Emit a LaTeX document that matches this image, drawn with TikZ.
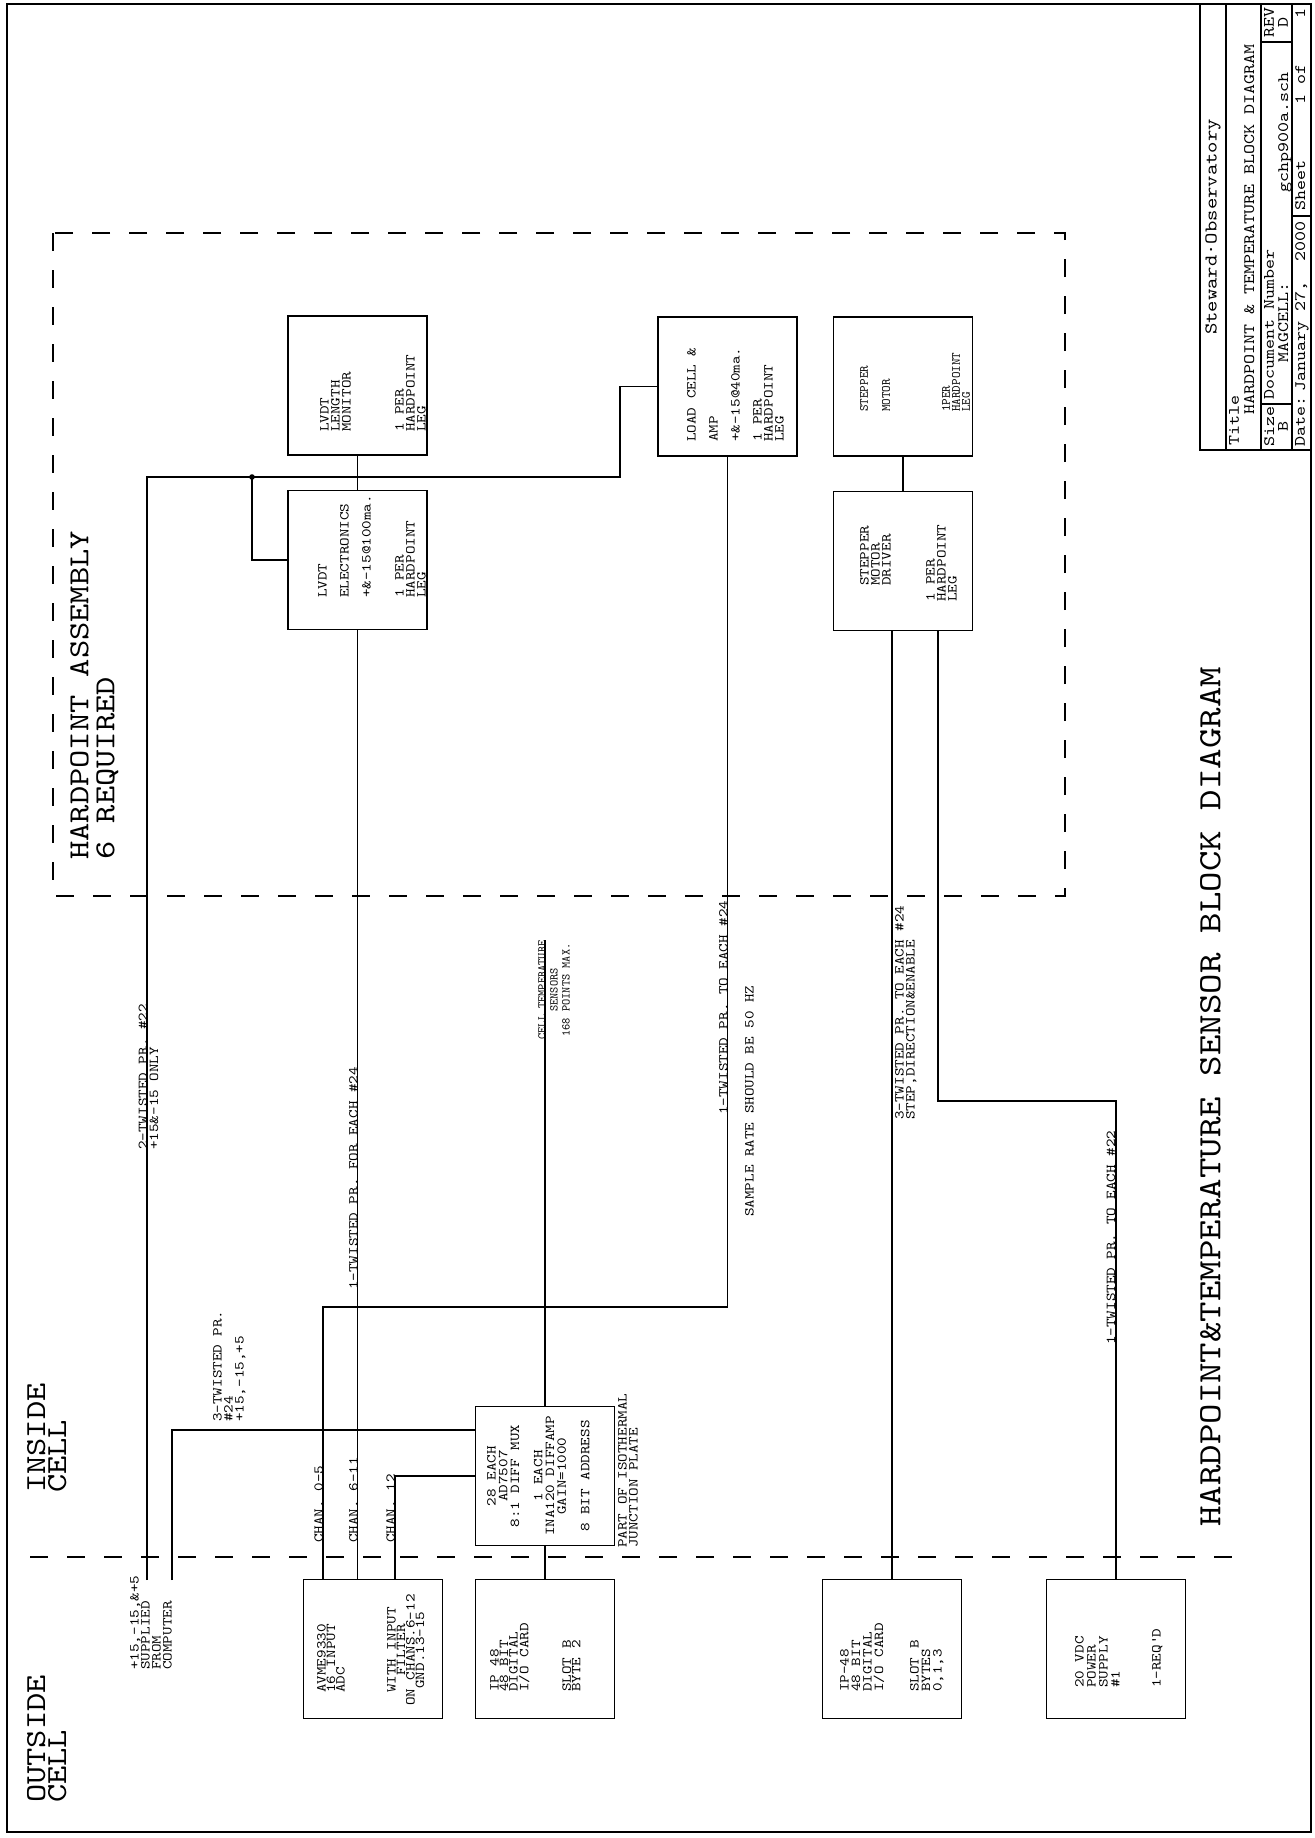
\documentclass[tikz,border=0pt]{standalone}
\usepackage{fontspec}
\newfontfamily\plotfont[FakeStretch=1.2]{lmmono10-regular.otf}
\newfontfamily\plotmid{lmmono10-regular.otf}
\usetikzlibrary{calc,positioning}
\newcommand\pfont[2]{\plotfont\fontsize{#1}{#2}\selectfont}
\newcommand\mfont[2]{\plotmid\fontsize{#1}{#2}\selectfont}
\tikzset{
  blk/.style={draw, line width=1.5pt, minimum size=139pt, inner sep=0pt},
  wire/.style={line width=1.5pt},
  bound/.style={line width=1.5pt, dash pattern=on 18pt off 19pt},
  txt/.style={rotate=90, inner sep=0pt, anchor=north west, align=left, font=\pfont{13.6}{11}},
  onwire/.style={txt, anchor=base west},
  big/.style={txt, font=\pfont{29}{21}},
  tb/.style={txt, font=\pfont{15.9}{12}}
}
\begin{document}
\begin{tikzpicture}[x=1pt, y=-1pt]
\useasboundingbox (0,0) rectangle (1314,1838);
% sheet frame and title block
\draw[wire] (7,4) rectangle (1311,1832);
\draw[wire] (1200,4) rectangle (1311,450);
\draw[wire] (1226,4) -- (1226,450) (1261,4) -- (1261,450) (1292,4) -- (1292,450);
\draw[wire] (1261,404) -- (1292,404) (1261,42) -- (1292,42) (1292,216) -- (1311,216);
\node[tb, anchor=center, font=\pfont{18}{12}] (org) at (1213,227) {Steward·Observatory};
\node[tb] (ttl) at (1229,446) {Title};
\node[tb] (ttlname) at (1244,415) {HARDPOINT \& TEMPERATURE BLOCK DIAGRAM};
\node[tb] (sz) at (1264,447) {Size};
\node[tb] (docno) at (1264,400) {Document Number};
\node[tb] (rev) at (1264,38) {REV};
\node[tb, anchor=north] (szval) at (1278,426) {B};
\node[tb] (mag) at (1278,363) {MAGCELL:};
\node[tb, anchor=north east] (file) at (1278,72) {gchp900a.sch};
\node[tb, anchor=north] (revval) at (1278,22) {D};
\node[tb] (date) at (1295,447) {Date:};
\node[tb, anchor=north east] (dateval) at (1295,221) {January~27,~~2000};
\node[tb] (sheet) at (1295,211) {Sheet};
\node[tb, anchor=north east] (sheetno) at (1295,64) {1 of};
\node[tb, anchor=north east] (sheets) at (1295,8) {1};
\node[txt, font=\pfont{32.5}{24}] (dwgtitle) at (1200,1527) {HARDPOINT\&TEMPERATURE SENSOR BLOCK DIAGRAM};

% regions
\draw[bound] (53,233) rectangle (1065,896);
\draw[bound] (30,1557) -- (1250,1557);
\node[big, font=\pfont{29}{26}] (hpa) at (70,860) {HARDPOINT ASSEMBLY\\6 REQUIRED};
\node[big] (inside) at (27,1493) {INSIDE\\CELL};
\node[big] (outside) at (27,1803) {OUTSIDE\\CELL};

% hardpoint blocks
\node[blk] (mon) at (357.5,385.5) {};
\node[blk] (elec) at (357.5,560) {};
\node[blk] (load) at (727.5,386.5) {};
\node[blk] (motor) at (903,386.5) {};
\node[blk] (driver) at (903,561) {};
\node[txt] (mont) at (320,432) {LVDT\\LENGTH\\MONITOR\\[42pt]1 PER\\HARDPOINT\\LEG};
\node[txt] (elect) at (318,598) {LVDT\\[11pt]ELECTRONICS\\[11pt]+\&-15@100ma.\\[22pt]1 PER\\HARDPOINT\\LEG};
\node[txt] (loadt) at (687,442) {LOAD CELL \&\\[11pt]AMP\\[11pt]+\&-15@40ma.\\[11pt]1 PER\\HARDPOINT\\LEG};
\node[txt, font=\mfont{12.5}{10}] (motort) at (860,412) {STEPPER\\[12pt]MOTOR\\[50pt]1PER\\HARDPOINT\\LEG};
\node[txt] (drivert) at (860,586) {STEPPER\\MOTOR\\DRIVER};
\node[txt] (driverl) at (926,602) {1 PER\\HARDPOINT\\LEG};

% cell blocks
\node[blk] (mux) at (545,1476) {};
\node[blk] (adc) at (373,1649) {};
\node[blk] (dio) at (545,1649) {};
\node[blk] (dio2) at (892,1649) {};
\node[blk] (psu) at (1116,1649) {};
\node[txt, anchor=north, align=center, font=\pfont{13.6}{11.7}] (muxt) at (487,1476)
  {28 EACH\\AD7507\\8:1 DIFF MUX\\[11.7pt]1 EACH\\INA120 DIFFAMP\\GAIN=1000\\[11.7pt]8 BIT ADDRESS};
\node[txt, font=\pfont{13.6}{9.5}] (adct) at (317,1693) {AVME9330\\16 INPUT\\ADC};
\node[txt, anchor=north, align=center, font=\pfont{13.6}{9.5}] (adcf) at (387,1650)
  {WITH INPUT\\FILTER\\ON CHANS.6-12\\GND.13-15};
\node[txt, font=\pfont{13.6}{9.5}] (diot) at (490,1692) {IP 48\\48 BIT\\DIGITAL\\I/O CARD\\[32pt]SLOT B\\BYTE 2};
\node[txt, font=\pfont{13.6}{11.5}] (dio2t) at (840,1692) {IP-48\\48 BIT\\DIGITAL\\I/O CARD\\[24pt]SLOT B\\BYTES\\0,1,3};
\node[txt, font=\pfont{13.6}{12}] (psut) at (1075,1688) {20 VDC\\POWER\\SUPPLY\\\#1\\[29pt]1-REQ\textquotesingle D};
\node[txt] (jct) at (618,1548) {PART OF ISOTHERMAL\\JUNCTION PLATE};

% wiring
\coordinate (supA) at (147,1580);
\coordinate (supB) at (172,1580);
\coordinate (pwrtap) at (620,477);
\coordinate (eltap) at (252,477);
\coordinate (temptop) at (545,940);
\coordinate (ch611) at (elec.south |- adc.north);
\coordinate (ch05) at ($(adc.north west)+(20,0)$);
\coordinate (ch12) at ($(adc.north west)+(92,0)$);
\coordinate (ldbend) at (ch05 |- 0,1307);
\coordinate (drvpwr) at ($(driver.south)+(35,0)$);
\draw[wire] (supA) |- (pwrtap) |- (load.west);
\fill (eltap) circle (2.8);
\draw[wire] (eltap) |- (elec.west);
\draw[wire] (mon) -- (elec);
\draw[wire] (elec.south) -- (ch611);
\draw[wire] (supB) |- ($(mux.west)+(0,-46)$);
\draw[wire] (load.south) |- (ldbend) -- (ch05);
\draw[wire] (mux.west) -| (ch12);
\draw[wire] (mux.north) -- (temptop);
\draw[wire] (mux.south) -- (dio.north);
\draw[wire] (motor) -- (driver);
\draw[wire] (driver.south -| dio2.north) -- (dio2.north);
\draw[wire] (drvpwr) |- ($(psu.north)+(0,-478)$) -- (psu.north);

% wire labels
\node[txt] (supAt) at (138.5,1150) {2-TWISTED PR. \#22\\+15\&-15 ONLY};
\node[txt] (supt) at (130,1670) {+15,-15,\&+5\\SUPPLIED\\FROM\\COMPUTER};
\node[txt] (supBt) at (213,1422) {3-TWISTED PR.\\\#24\\+15,-15,+5};
\node[onwire] (elecw) at (357.5,1290) {1-TWISTED PR. FOR EACH \#24};
\node[txt, anchor=north, align=center, font=\mfont{11.8}{12}] (tempt) at (538,990)
  {CELL TEMPERATURE\\SENSORS\\168 POINTS MAX.};
\node[onwire] (loadw) at (727.5,1115) {1-TWISTED PR. TO EACH \#24};
\node[txt] (rate) at (745,1217) {SAMPLE RATE SHOULD BE 50 HZ};
\node[txt] (drvw) at (895,1120) {3-TWISTED PR. TO EACH \#24\\STEP,DIRECTION\&ENABLE};
\node[onwire] (psuw) at (1115,1345) {1-TWISTED PR. TO EACH \#22};
\node[onwire] (c05) at (ch05 |- 0,1543) {CHAN. 0-5};
\node[onwire] (c611) at (ch611 |- 0,1543) {CHAN. 6-11};
\node[onwire] (c12) at (ch12 |- 0,1543) {CHAN. 12};
\end{tikzpicture}
\end{document}
